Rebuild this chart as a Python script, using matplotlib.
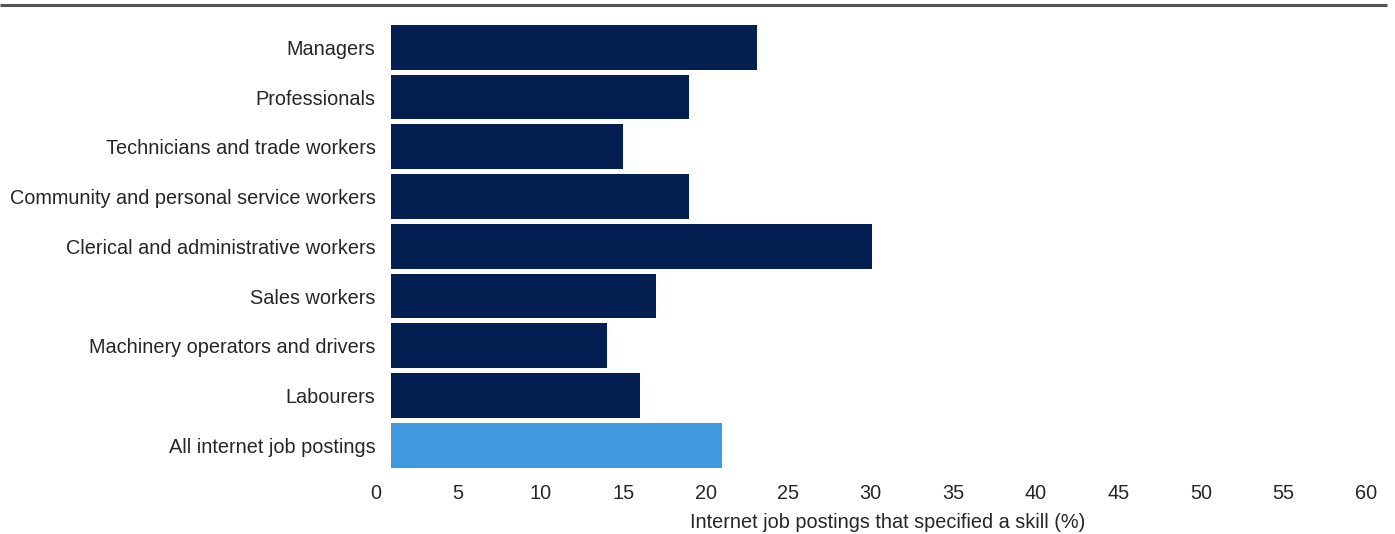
import matplotlib
matplotlib.use("Agg")
import matplotlib.pyplot as plt
from matplotlib.patches import Rectangle
from matplotlib.lines import Line2D

# Occupation groups and share of job postings that specified a skill (%)
categories = [
    "Managers",
    "Professionals",
    "Technicians and trade workers",
    "Community and personal service workers",
    "Clerical and administrative workers",
    "Sales workers",
    "Machinery operators and drivers",
    "Labourers",
    "All internet job postings",
]
values = [23.1, 19.0, 15.0, 19.0, 30.1, 17.0, 14.0, 16.0, 21.0]
x_ticks = [0, 5, 10, 15, 20, 25, 30, 35, 40, 45, 50, 55, 60]
x_label = "Internet job postings that specified a skill (%)"

NAVY = "#031f52"
LIGHT = "#3f99de"
TEXT = "#262626"

plt.rcParams["font.family"] = ["Liberation Sans", "DejaVu Sans"]

W, H = 1395, 534
fig = plt.figure(figsize=(W / 100, H / 100), dpi=100)

ax_left, ax_right = 375.5, 1366.0
ax_top, ax_bottom = 22.4, 470.2
ax = fig.add_axes([ax_left / W, 1 - ax_bottom / H,
                   (ax_right - ax_left) / W, (ax_bottom - ax_top) / H])

colors = [NAVY] * (len(categories) - 1) + [LIGHT]
ypos = list(range(len(categories)))
bars = ax.barh(ypos, values, height=0.9, color=colors, left=0)

ax.set_xlim(0, 60)
ax.set_ylim(len(categories) - 0.5, -0.5)

# plotting region for the bars starts just right of the zero label
clip = Rectangle((0.94, -10), 200, 40, transform=ax.transData)
for b in bars:
    b.set_clip_path(clip)

ax.set_xticks(x_ticks)
ax.set_xticklabels([str(t) for t in x_ticks])
ax.set_yticks(ypos)
ax.set_yticklabels(categories)
ax.tick_params(axis="both", length=0, labelsize=14.3, colors=TEXT)
ax.tick_params(axis="x", pad=10)
ax.tick_params(axis="y", pad=0)

for s in ax.spines.values():
    s.set_visible(False)

ax.set_xlabel(x_label, fontsize=14.3, color=TEXT)
ax.xaxis.set_label_coords((888 - ax_left) / (ax_right - ax_left), -0.096)

# heavy rule across the top of the figure
fig.add_artist(Line2D([0, 1387 / W], [1 - 4.5 / H, 1 - 4.5 / H],
                      transform=fig.transFigure, color="#555555", lw=2.2,
                      solid_capstyle="butt"))

fig.savefig("out.png", dpi=100, facecolor="white")
